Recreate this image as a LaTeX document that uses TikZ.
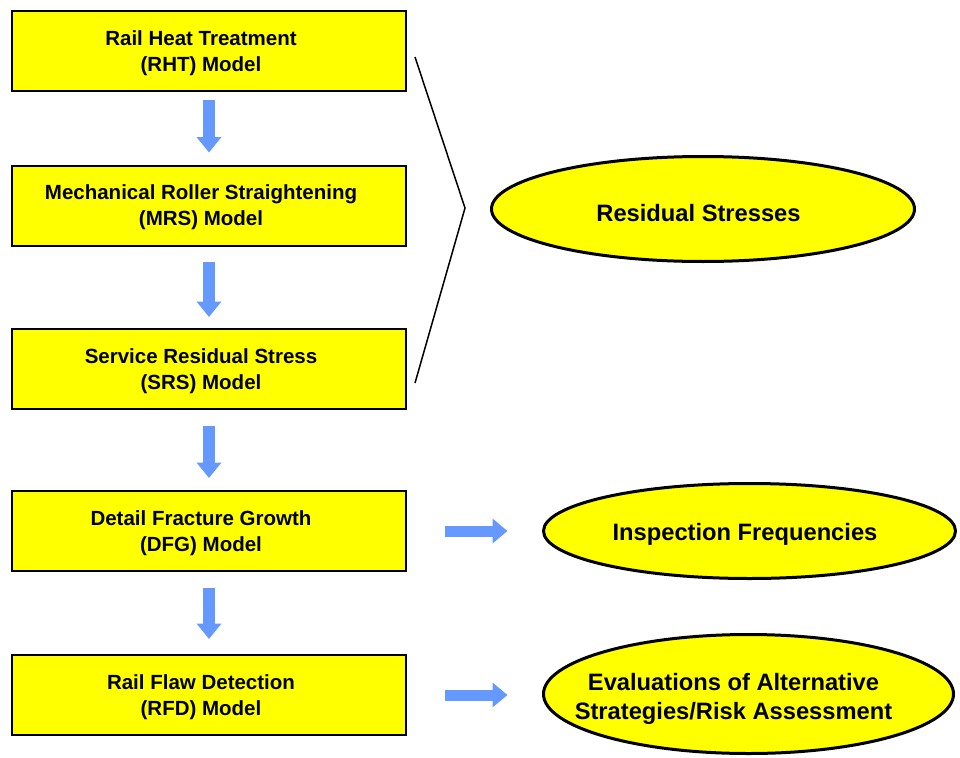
\documentclass[tikz,border=0pt]{standalone}
\usepackage{fontspec}
\setmainfont{Liberation Sans}
\usetikzlibrary{shapes.geometric,arrows.meta}
\definecolor{boxyellow}{RGB}{255,255,0}
\definecolor{arrowblue}{RGB}{102,153,255}
\tikzset{
  modelbox/.style={draw=black, line width=2pt, fill=boxyellow, minimum width=394pt, minimum height=80pt, inner sep=0pt},
  boxtext/.style={font=\bfseries\fontsize{20.5}{26}\selectfont, align=center, inner sep=0pt},
  resultell/.style={ellipse, draw=black, line width=3pt, fill=boxyellow, inner sep=0pt},
  elltext/.style={font=\bfseries\fontsize{23.7}{29}\selectfont, align=center, inner sep=0pt},
  downarrow/.style={draw=arrowblue, line width=12pt, -{Triangle[width=24pt,length=15.5pt]}},
  rightarrow/.style={draw=arrowblue, line width=11pt, -{Triangle[width=24pt,length=15pt]}},
  bracketline/.style={draw=black, line width=1.5pt, line join=miter}
}
\begin{document}
\begin{tikzpicture}[x=1pt,y=-1pt]
\useasboundingbox (0,0) rectangle (960,757);
% model boxes
\node[modelbox] (rht) at (209,51) {};
\node[modelbox] (mrs) at (209,205.5) {};
\node[modelbox] (srs) at (209,369) {};
\node[modelbox] (dfg) at (209,531) {};
\node[modelbox] (rfd) at (209,695) {};
\node[boxtext] (trht) at ([shift={(-8,2)}]rht.center) {Rail Heat Treatment\\(RHT) Model};
\node[boxtext] (tmrs) at ([shift={(-8,2)}]mrs.center) {Mechanical Roller Straightening\\(MRS) Model};
\node[boxtext] (tsrs) at ([shift={(-8,2)}]srs.center) {Service Residual Stress\\(SRS) Model};
\node[boxtext] (tdfg) at ([shift={(-8,2)}]dfg.center) {Detail Fracture Growth\\(DFG) Model};
\node[boxtext] (trfd) at ([shift={(-8,2)}]rfd.center) {Rail Flaw Detection\\(RFD) Model};
% result ellipses
\node[resultell, minimum width=423pt, minimum height=105pt] (resid) at (703,209) {};
\node[resultell, minimum width=412pt, minimum height=95pt] (insp) at (749.5,531) {};
\node[resultell, minimum width=410pt, minimum height=119pt] (evalu) at (748.5,694) {};
\node[elltext] (tresid) at ([shift={(-4.5,4.5)}]resid.center) {Residual Stresses};
\node[elltext] (tinsp) at ([shift={(-4.5,3)}]insp.center) {Inspection Frequencies};
\node[elltext] (tevalu) at ([shift={(-15,4.5)}]evalu.center) {Evaluations of Alternative\\Strategies/Risk Assessment};
% down arrows
\draw[downarrow, shorten <=8pt, shorten >=12pt] (rht.south) -- (mrs.north);
\draw[downarrow, shorten <=15pt, shorten >=11pt] (mrs.south) -- (srs.north);
\draw[downarrow, shorten <=16pt, shorten >=12pt] (srs.south) -- (dfg.north);
\draw[downarrow, shorten <=16pt, shorten >=15pt] (dfg.south) -- (rfd.north);
% right arrows
\draw[rightarrow, shorten <=38pt, shorten >=34.5pt] (dfg.east) -- (dfg.east -| insp.west);
\draw[rightarrow, shorten <=38pt, shorten >=34.5pt] (rfd.east) -- (rfd.east -| evalu.west);
% bracket
\coordinate (btop) at (415,57);
\coordinate (bmid) at (465,208);
\coordinate (bbot) at (415,383);
\draw[bracketline] (btop) -- (bmid) -- (bbot);
\end{tikzpicture}
\end{document}
